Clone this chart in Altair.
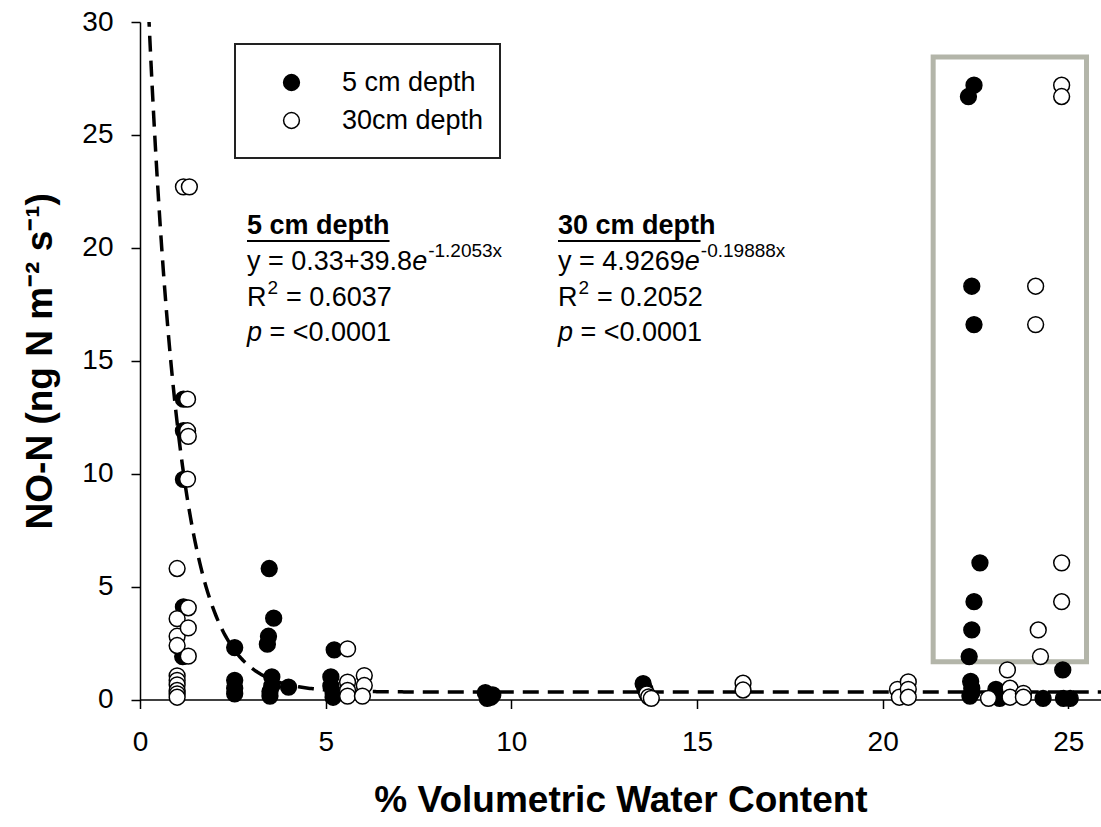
import altair as alt
import pandas as pd
import numpy as np

# ---- data ----
x_5cm = [1.17, 1.17, 1.17, 1.17, 1.15,
         2.55, 2.55, 2.55, 2.55,
         3.48, 3.60, 3.46, 3.43, 3.55, 3.55, 3.50, 3.50, 4.00,
         5.23, 5.14, 5.14, 5.20, 5.20,
         9.30, 9.40, 9.45, 9.50, 9.35,
         13.55, 13.60,
         22.46, 22.31, 22.40, 22.46, 22.62, 22.46, 22.40, 22.33, 22.37, 22.40, 22.40, 22.35,
         23.05, 23.07, 23.15,
         24.32, 24.85, 24.87, 25.05]
y_5cm = [13.3, 11.9, 9.75, 4.10, 1.90,
         2.30, 0.85, 0.50, 0.25,
         5.80, 3.60, 2.80, 2.45, 1.00, 0.60, 0.35, 0.15, 0.55,
         2.20, 1.00, 0.60, 0.30, 0.10,
         0.30, 0.15, 0.10, 0.20, 0.05,
         0.70, 0.45,
         27.2, 26.7, 18.3, 16.6, 6.05, 4.33, 3.08, 1.90, 0.80, 0.50, 0.30, 0.15,
         0.45, 0.15, 0.05,
         0.05, 1.31, 0.05, 0.05]

x_30cm = [1.00, 1.00, 1.00, 1.00, 1.00, 1.00, 1.00, 1.00, 1.00, 1.00,
          1.17, 1.33, 1.28, 1.28, 1.30, 1.28, 1.30, 1.30, 1.30,
          5.59, 5.59, 5.59, 5.59,
          6.04, 6.04, 5.99,
          13.65, 13.70, 13.77,
          16.24, 16.24,
          20.40, 20.45, 20.69, 20.69, 20.69,
          22.85, 23.36, 23.43, 23.43, 23.79, 23.79,
          24.12, 24.12, 24.19, 24.25,
          24.82, 24.82, 24.82, 24.82]
y_30cm = [5.80, 3.58, 2.80, 2.39, 1.05, 0.85, 0.65, 0.40, 0.25, 0.10,
          22.7, 22.7, 13.3, 11.9, 11.65, 9.76, 4.06, 3.17, 1.92,
          2.24, 0.77, 0.40, 0.15,
          1.06, 0.62, 0.15,
          0.25, 0.12, 0.05,
          0.72, 0.42,
          0.45, 0.10, 0.78, 0.45, 0.10,
          0.05, 1.31, 0.50, 0.10, 0.27, 0.10,
          18.3, 16.6, 3.08, 1.90,
          27.2, 26.7, 6.05, 4.33]

series_names = ["5 cm depth", "30cm depth"]

# fitted model shown for the 5 cm depth data (from the printed equation)
fit_a, fit_b, fit_k = 0.33, 39.8, -1.2053

# highlighted region (data units)
box_x = [21.36, 25.49]
box_y = [1.67, 28.45]

x_ticks = [0, 5, 10, 15, 20, 25]
y_ticks = [0, 5, 10, 15, 20, 25, 30]
x_max = 25.88

FONT = "Liberation Sans"

points = pd.DataFrame({
    "vwc": x_5cm + x_30cm,
    "no": y_5cm + y_30cm,
    "depth": [series_names[0]] * len(x_5cm) + [series_names[1]] * len(x_30cm),
    "order": list(range(len(x_5cm) + len(x_30cm))),
})

curve_x = np.linspace(0.2, x_max, 600)
curve = pd.DataFrame({"vwc": curve_x, "no": fit_a + fit_b * np.exp(fit_k * curve_x)})

box = pd.DataFrame({"x1": [box_x[0]], "x2": [box_x[1]], "y1": [box_y[0]], "y2": [box_y[1]]})

xscale = alt.Scale(domain=[0, x_max], nice=False, zero=False)
yscale = alt.Scale(domain=[0, 30], nice=False)

xaxis = alt.Axis(values=x_ticks, title="% Volumetric Water Content", grid=False,
                 tickSize=9, labelPadding=20, titlePadding=26, format="d")
yaxis = alt.Axis(values=y_ticks, title="NO-N (ng N m⁻² s⁻¹)", grid=False,
                 tickSize=9, labelPadding=18, titlePadding=22, format="d")

one = alt.Data(values=[{}])

# legend frame
frame = alt.Chart(one).mark_rect(fill="white", stroke="#222222", strokeWidth=2).encode(
    x=alt.value(95), x2=alt.value(360), y=alt.value(22), y2=alt.value(136))

rect = alt.Chart(box).mark_rect(fillOpacity=0, stroke="#b3b5a9", strokeWidth=5).encode(
    x=alt.X("x1:Q", scale=xscale, axis=xaxis),
    x2="x2:Q",
    y=alt.Y("y1:Q", scale=yscale, axis=yaxis),
    y2="y2:Q",
)

line = alt.Chart(curve).mark_line(color="black", strokeWidth=3.5, strokeDash=[16, 9], clip=True).encode(
    x=alt.X("vwc:Q", scale=xscale),
    y=alt.Y("no:Q", scale=yscale),
)

pts = alt.Chart(points).mark_point(filled=True, size=250, stroke="black", strokeWidth=1.5,
                                   opacity=1, fillOpacity=1, strokeOpacity=1).encode(
    x=alt.X("vwc:Q", scale=xscale),
    y=alt.Y("no:Q", scale=yscale),
    fill=alt.Fill("depth:N", scale=alt.Scale(domain=series_names, range=["black", "white"]),
                  legend=alt.Legend(title=None, orient="none", legendX=138, legendY=47,
                                    padding=0,
                                    labelFontSize=27, labelFont=FONT, labelColor="black",
                                    symbolSize=250, symbolStrokeColor="black",
                                    symbolStrokeWidth=1.5, symbolType="circle",
                                    labelOffset=37, rowPadding=10)),
    order=alt.Order("order:Q"),
)


def txt(s, x, y, size=27, style="normal", weight="normal"):
    return alt.Chart(one).mark_text(
        text=s, align="left", baseline="middle", font=FONT, fontSize=size,
        fontStyle=style, fontWeight=weight, color="black"
    ).encode(x=alt.value(x), y=alt.value(y))


S = 27
layers = []
for (cx, title, eq_a, eq_sup, r2) in [
    (107, "5 cm depth", "y = 0.33+39.8", "-1.2053x", "0.6037"),
    (418, "30 cm depth", "y = 4.9269", "-0.19888x", "0.2052"),
]:
    top = 204
    layers.append(txt(title, cx, top, S, weight="bold"))
    w_title = 5.279 * S
    layers.append(alt.Chart(one).mark_rule(color="black", strokeWidth=2).encode(
        x=alt.value(cx), x2=alt.value(cx + w_title), y=alt.value(top + 15)))
    w_a = sum({"y": .5, " ": .278, "=": .584, ".": .278, "+": .584}.get(c, .556) for c in eq_a) * S
    layers.append(txt(eq_a, cx, top + 36, S))
    layers.append(txt("e", cx + w_a, top + 36, S, style="italic"))
    layers.append(txt(eq_sup, cx + w_a + .556 * S + 1, top + 25, 19))
    layers.append(txt("R", cx, top + 72, S))
    layers.append(txt("2", cx + .722 * S + 1, top + 62, 19))
    layers.append(txt("= " + r2, cx + .722 * S + 12 + .278 * S, top + 72, S))
    layers.append(txt("p", cx, top + 107, S, style="italic"))
    layers.append(txt("= <0.0001", cx + .556 * S + .278 * S, top + 107, S))

chart = alt.layer(rect, line, pts, frame, *layers).properties(
    width=961, height=677.5,
    autosize=alt.AutoSizeParams(type="none"),
    padding={"left": 140, "top": 22, "right": 0, "bottom": 128},
).configure_view(stroke=None).configure_axis(
    domainColor="black", domainWidth=1.5, tickColor="black", tickWidth=1.5,
    labelFont=FONT, labelFontSize=28, labelColor="black",
    titleFont=FONT, titleFontSize=37, titleFontWeight="bold", titleColor="black",
).configure_axisX(labelFlush=False)

chart.save("out.html", embed_options={"renderer": "svg", "actions": False})
